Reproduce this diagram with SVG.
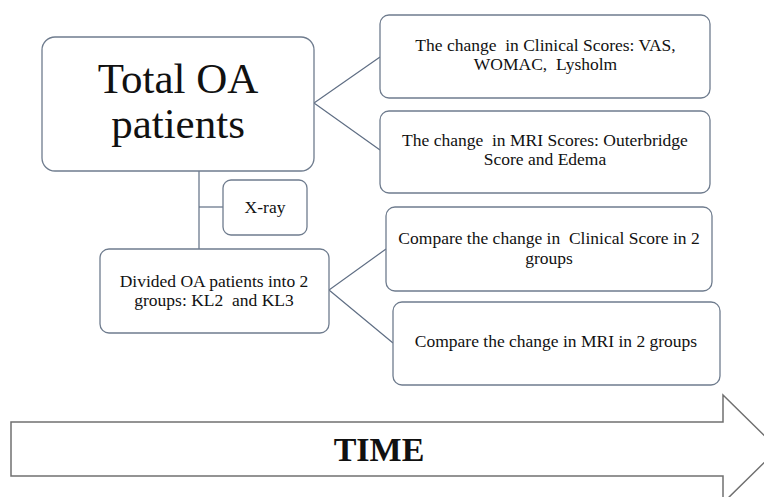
<svg xmlns="http://www.w3.org/2000/svg" width="764" height="497" viewBox="0 0 764 497">
<style>
.box{fill:#fff;stroke:#6f7c8e;stroke-width:1.3}
.conn{fill:none;stroke:#5f6e84;stroke-width:1.2}
.t{font-family:"Liberation Serif","Times New Roman",serif;fill:#111;text-anchor:middle}
.s{font-size:17.5px}
</style>
<rect width="764" height="497" fill="#fff"/>
<g id="connectors">
<polyline class="conn" points="380,57 314,103 380,150"/>
<line class="conn" x1="199" y1="171" x2="199" y2="249"/>
<line class="conn" x1="199" y1="207" x2="223" y2="207"/>
<polyline class="conn" points="386,249 329,290 393,343"/>
</g>
<g id="total">
<rect class="box" x="42" y="37" width="272" height="134" rx="13"/>
<text class="t" font-size="43"><tspan x="178" y="93">Total OA</tspan><tspan x="178" y="138">patients</tspan></text>
</g>
<g id="clinical">
<rect class="box" x="380" y="15" width="330" height="83" rx="9"/>
<text class="t s" xml:space="preserve"><tspan x="545.5" y="51">The change  in Clinical Scores: VAS,</tspan><tspan x="545.5" y="70">WOMAC,  Lysholm</tspan></text>
</g>
<g id="mri">
<rect class="box" x="380" y="111" width="330" height="82" rx="9"/>
<text class="t s" xml:space="preserve"><tspan x="545" y="146">The change  in MRI Scores: Outerbridge</tspan><tspan x="545" y="165">Score and Edema</tspan></text>
</g>
<g id="xray">
<rect class="box" x="223" y="180" width="84" height="55" rx="8"/>
<text class="t s" x="265" y="213">X-ray</text>
</g>
<g id="divided">
<rect class="box" x="100" y="249" width="229" height="84" rx="9"/>
<text class="t s" xml:space="preserve"><tspan x="214" y="287">Divided OA patients into 2</tspan><tspan x="214" y="306">groups: KL2  and KL3</tspan></text>
</g>
<g id="compare-clinical">
<rect class="box" x="386" y="207" width="326" height="84" rx="9"/>
<text class="t s" xml:space="preserve"><tspan x="549" y="244">Compare the change in  Clinical Score in 2</tspan><tspan x="549" y="264">groups</tspan></text>
</g>
<g id="compare-mri">
<rect class="box" x="393" y="302" width="327" height="83" rx="9"/>
<text class="t s" x="556" y="347">Compare the change in MRI in 2 groups</text>
</g>
<g id="time">
<polygon points="11,422 723,422 723,395 778,449 723,503 723,476 11,476" fill="#fff" stroke="#707070" stroke-width="1.5"/>
<text class="t" x="379" y="461" font-size="34" font-weight="bold">TIME</text>
</g>
</svg>
